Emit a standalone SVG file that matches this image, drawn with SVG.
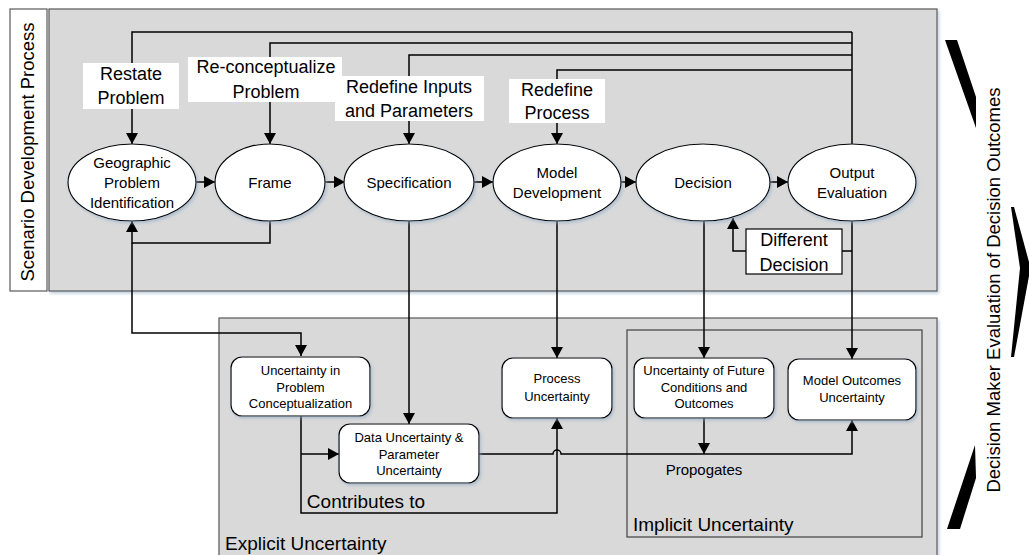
<svg xmlns="http://www.w3.org/2000/svg" width="1029" height="555" viewBox="0 0 1029 555">
<defs>
<marker id="arr" markerUnits="userSpaceOnUse" markerWidth="11" markerHeight="12" refX="11" refY="6" orient="auto">
<path d="M0,0 L11,6 L0,12 z" fill="#000"/>
</marker>
<filter id="sh" x="-10%" y="-10%" width="130%" height="130%">
<feDropShadow dx="1.5" dy="2" stdDeviation="1.5" flood-color="#8fa9c4" flood-opacity="0.55"/>
</filter>
</defs>
<style>
text{font-family:"Liberation Sans",Arial,sans-serif;fill:#000;text-anchor:middle}
.panel{fill:#d9d9d9;stroke:#595959;stroke-width:1.2}
.node{fill:#fff;stroke:#000;stroke-width:1.2;filter:url(#sh)}
.c{fill:none;stroke:#000;stroke-width:1.5}
.a{marker-end:url(#arr)}
.n{font-size:15px}
.b{font-size:13px}
.l{font-size:18px}
.big{font-size:19px;text-anchor:start}
.lab{fill:#fff}
</style>

<g id="panels">
<rect x="10" y="9" width="37" height="282" fill="#fff" stroke="#595959" stroke-width="1.2"/>
<text class="l" transform="translate(34,152) rotate(-90)" style="font-size:18.5px">Scenario Development Process</text>
<rect class="panel" x="49" y="9" width="888" height="282" filter="url(#sh)"/>
<rect class="panel" x="219" y="318" width="718" height="245" filter="url(#sh)"/>
<rect x="627" y="330" width="295" height="207" fill="none" stroke="#404040" stroke-width="1.2"/>
<text class="big" x="225" y="550">Explicit Uncertainty</text>
<text class="big" x="633" y="531">Implicit Uncertainty</text>
</g>

<g id="connectors">
<path class="c a" d="M852,32 H132 V144"/>
<path class="c a" d="M852,43 H270 V144"/>
<path class="c a" d="M852,55 H409 V144"/>
<path class="c a" d="M852,70 H557 V144"/>
<path class="c" d="M852,32 V144"/>
<path class="c a" d="M196,182 H215"/>
<path class="c a" d="M325,182 H345"/>
<path class="c a" d="M474,182 H493"/>
<path class="c a" d="M621,182 H636"/>
<path class="c a" d="M770,182 H788"/>
<path class="c a" d="M270,221 V243 H132 V221"/>
<path class="c a" d="M132,243 V333 H301 V356"/>
<path class="c a" d="M409,221 V424"/>
<path class="c a" d="M557,221 V358"/>
<path class="c a" d="M704,221 V358"/>
<path class="c a" d="M852,221 V359"/>
<path class="c a" d="M852,251 H733 V218"/>
<path class="c a" d="M301,416 V513 H557 V418"/>
<path class="c a" d="M301,454 H339"/>
<path class="c a" d="M479,454 H553 a4,4 0 0 1 8,0 H852 V420"/>
<path class="c a" d="M704,418 V454"/>
</g>

<g id="labels">
<rect class="lab" x="83" y="63" width="96" height="46"/>
<text class="l" x="131" y="80">Restate</text>
<text class="l" x="131" y="104">Problem</text>
<rect class="lab" x="188" y="57" width="154" height="45"/>
<text class="l" x="266" y="73">Re-conceptualize</text>
<text class="l" x="266" y="98">Problem</text>
<rect class="lab" x="335" y="76" width="149" height="45"/>
<text class="l" x="409" y="93">Redefine Inputs</text>
<text class="l" x="409" y="117">and Parameters</text>
<rect class="lab" x="509" y="79" width="96" height="44"/>
<text class="l" x="557" y="96">Redefine</text>
<text class="l" x="557" y="119">Process</text>
<rect x="746" y="229" width="96" height="45" fill="#fff" stroke="#000" stroke-width="1.2"/>
<text class="l" x="794" y="246">Different</text>
<text class="l" x="794" y="271">Decision</text>
<text class="l" x="366" y="508" style="font-size:19px">Contributes to</text>
<text class="n" x="704" y="475">Propogates</text>
</g>

<g id="geo">
<ellipse class="node" cx="132" cy="182.5" rx="64" ry="38.5"/>
<text class="n" x="132" y="168">Geographic</text>
<text class="n" x="132" y="188">Problem</text>
<text class="n" x="132" y="208">Identification</text>
</g>
<g id="frame">
<ellipse class="node" cx="270" cy="182.5" rx="55" ry="38.5"/>
<text class="n" x="270" y="188">Frame</text>
</g>
<g id="spec">
<ellipse class="node" cx="409" cy="182.5" rx="65" ry="38.5"/>
<text class="n" x="409" y="188">Specification</text>
</g>
<g id="model">
<ellipse class="node" cx="557" cy="182.5" rx="64" ry="38.5"/>
<text class="n" x="557" y="178">Model</text>
<text class="n" x="557" y="198">Development</text>
</g>
<g id="decision">
<ellipse class="node" cx="703" cy="182.5" rx="67" ry="38.5"/>
<text class="n" x="703" y="188">Decision</text>
</g>
<g id="output">
<ellipse class="node" cx="852" cy="182.5" rx="64" ry="38.5"/>
<text class="n" x="852" y="178">Output</text>
<text class="n" x="852" y="198">Evaluation</text>
</g>

<g id="u-problem">
<rect class="node" x="231" y="357" width="139" height="59" rx="11"/>
<text class="b" x="300.5" y="375">Uncertainty in</text>
<text class="b" x="300.5" y="391.5">Problem</text>
<text class="b" x="300.5" y="408">Conceptualization</text>
</g>
<g id="u-data">
<rect class="node" x="339" y="424" width="140" height="59" rx="11"/>
<text class="b" x="409" y="442">Data Uncertainty &amp;</text>
<text class="b" x="409" y="458.5">Parameter</text>
<text class="b" x="409" y="475">Uncertainty</text>
</g>
<g id="u-process">
<rect class="node" x="502" y="358" width="110" height="60" rx="11"/>
<text class="b" x="557" y="383">Process</text>
<text class="b" x="557" y="401">Uncertainty</text>
</g>
<g id="u-future">
<rect class="node" x="634" y="358" width="140" height="60" rx="11"/>
<text class="b" x="704" y="375">Uncertainty of Future</text>
<text class="b" x="704" y="392">Conditions and</text>
<text class="b" x="704" y="408">Outcomes</text>
</g>
<g id="u-outcomes">
<rect class="node" x="788" y="359" width="128" height="61" rx="11"/>
<text class="b" x="852" y="385">Model Outcomes</text>
<text class="b" x="852" y="402">Uncertainty</text>
</g>

<g id="evaluation-brace">
<polygon points="945,40 957,40 976,97 976,128" fill="#000"/>
<polygon points="1011,207 1014,207 1029,262 1029,276 1014,357 1011,357 1020,268" fill="#000"/>
<polygon points="975,445 976,478 960,529 947,529" fill="#000"/>
<text transform="translate(1000,290) rotate(-90)" style="font-size:18.5px">Decision Maker Evaluation of Decision Outcomes</text>
</g>
</svg>
